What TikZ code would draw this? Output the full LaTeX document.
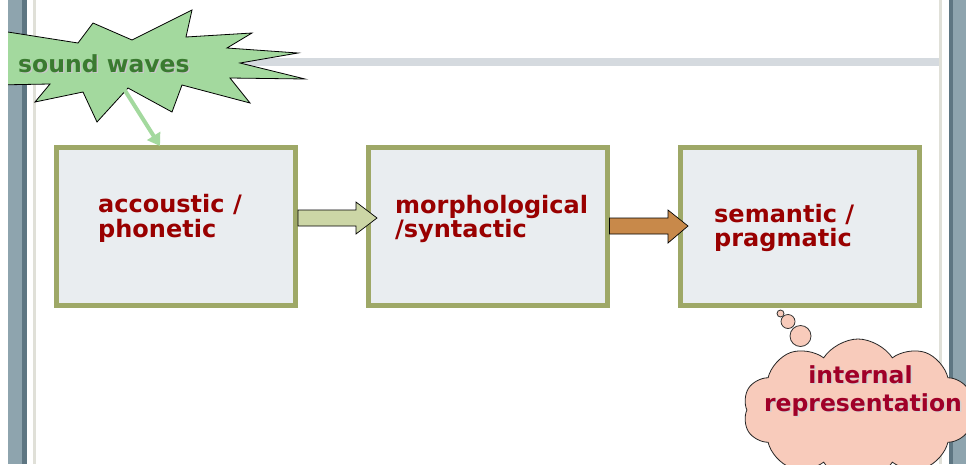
\documentclass[tikz,border=0pt]{standalone}
\usepackage{fontspec}
\setmainfont{DejaVu Sans}
\usetikzlibrary{arrows.meta,shapes.symbols}
\definecolor{barblue}{HTML}{8EA4AE}
\definecolor{bardark}{HTML}{5E7682}
\definecolor{thinline}{HTML}{E0E0D8}
\definecolor{band}{HTML}{D5DADF}
\definecolor{boxfill}{HTML}{E9EDF0}
\definecolor{boxborder}{HTML}{9EA867}
\definecolor{arrowA}{HTML}{CCD6A6}
\definecolor{arrowB}{HTML}{C8894A}
\definecolor{starfill}{HTML}{A3D99E}
\definecolor{startext}{HTML}{3A7A30}
\definecolor{redtext}{HTML}{990000}
\definecolor{cloudtext}{HTML}{A00028}
\definecolor{cloudfill}{HTML}{F8CBBB}
\tikzset{
  stagebox/.style={draw=boxborder, line width=5pt, fill=boxfill, minimum width=239pt, minimum height=158pt, inner sep=0pt},
  stagetext/.style={text=redtext, font=\fontsize{24}{24}\selectfont\bfseries, anchor=base west, inner sep=0pt},
  cloudline/.style={font=\fontsize{23.5}{24}\selectfont\bfseries, anchor=base, inner sep=0pt},
  blockarrow/.style={draw=black, line width=0.7pt, line join=miter},
  bubble/.style={circle, draw=black!80, line width=0.8pt, fill=cloudfill, inner sep=0pt},
}
\begin{document}
\begin{tikzpicture}[x=1pt,y=-1pt]
\useasboundingbox (0,0) rectangle (966,464);
\begin{scope}
\clip (0,0) rectangle (966,464);
% background frame
\fill[white] (0,0) rectangle (966,464);
\fill[barblue] (8,0) rectangle (27,464);
\fill[bardark] (22,0) rectangle (27,464);
\fill[thinline] (33,0) rectangle (36,464);
\fill[thinline] (939,0) rectangle (942,464);
\fill[barblue] (949,0) rectangle (966,464);
\fill[bardark] (949,0) rectangle (953,464);
\fill[band] (36,58) rectangle (939,66);
% boxes
\node[stagebox] (b1) at (176,226.5) {};
\node[stagebox] (b2) at (487.5,226.5) {};
\node[stagebox] (b3) at (800,226.5) {};
\node[stagetext] (t1a) at (98,212) {accoustic /};
\node[stagetext] (t1b) at (98,237) {phonetic};
\node[stagetext] (t2a) at (395,213) {morphological};
\node[stagetext] (t2b) at (395,237) {/syntactic};
\node[stagetext] (t3a) at (714,222) {semantic /};
\node[stagetext] (t3b) at (714,246) {pragmatic};
% block arrows
\draw[blockarrow, fill=arrowA] (b1.east |- 0,210) -- (356,210) -- (356,202) -- (377,218) -- (356,234) -- (356,226) -- (b1.east |- 0,226) -- cycle;
\draw[blockarrow, fill=arrowB] (b2.east |- 0,218) -- (668,218) -- (668,210) -- (688,226) -- (668,243) -- (668,234) -- (b2.east |- 0,234) -- cycle;
% star
\begin{scope}
\clip (8,0) rectangle (966,464);
\draw[fill=starfill, line width=0.8pt, line join=miter]
 (-5,30) -- (78,43) -- (93,23) -- (132,40) -- (192,10) -- (186,37) -- (252,33) -- (227,48)
 -- (298,53) -- (240,63) -- (305,79) -- (230,78) -- (250,103) -- (182,85) -- (172,112)
 -- (128,88) -- (97,122) -- (83,92) -- (35,102) -- (50,84) -- (-5,85) -- (7,69) -- cycle;
\end{scope}
\node[text=black!22, font=\fontsize{23.5}{24}\selectfont\bfseries, anchor=base west, inner sep=0pt] (swshadow) at (19.5,73.5) {sound waves};
\node[text=startext, font=\fontsize{23.5}{24}\selectfont\bfseries, anchor=base west, inner sep=0pt] (sw) at (18,72) {sound waves};
\coordinate (sa) at (124,89);
\coordinate (sb) at (160,146);
\draw[starfill, line width=4pt, -{Triangle[length=12pt,width=15pt]}] (sa) -- (sb);
% thought cloud
\node[bubble, minimum size=7pt] (c1) at (780.5,313.5) {};
\node[bubble, minimum size=14pt] (c2) at (788,321.5) {};
\node[bubble, minimum size=21pt] (c3) at (800.5,336) {};
\node[cloud, cloud puffs=10, cloud puff arc=115, aspect=1.6, draw=black!85, line width=0.8pt, fill=cloudfill, minimum width=230pt, minimum height=142pt, inner sep=0pt] (cl) at (858,410) {};
\node[cloudline, text=black!18] (ct1s) at (862,384.5) {internal};
\node[cloudline, text=black!18] (ct2s) at (864.5,412.5) {representation};
\node[cloudline, text=cloudtext] (ct1) at (860.5,383) {internal};
\node[cloudline, text=cloudtext] (ct2) at (863,411) {representation};
\end{scope}
\end{tikzpicture}
\end{document}
